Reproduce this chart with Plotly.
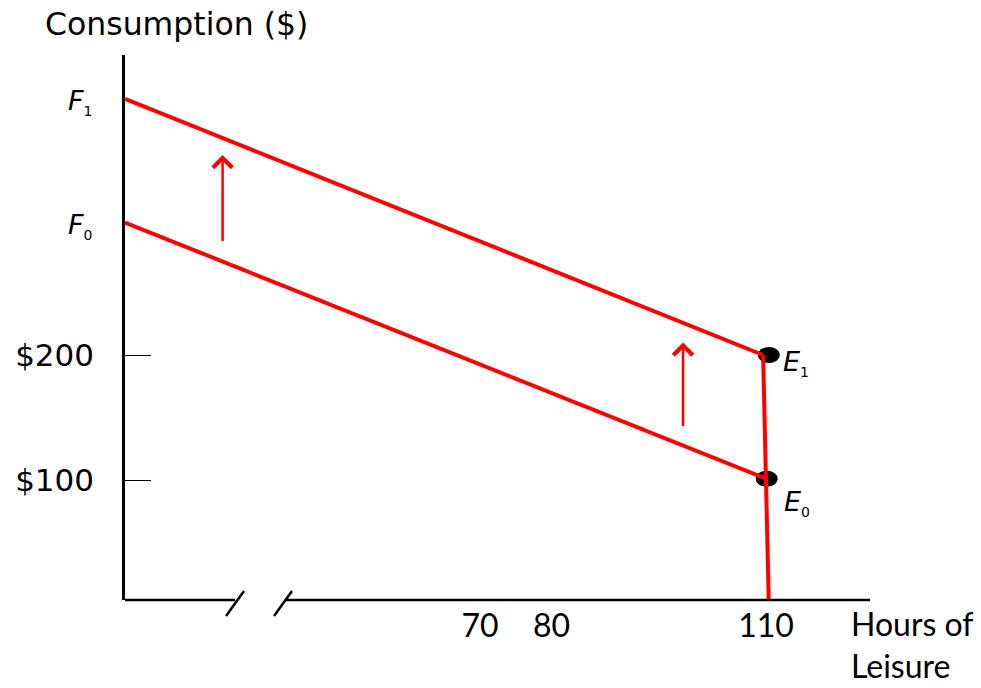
import plotly.graph_objects as go

# ---------------- data ----------------
# budget line F0 -> E0 and F1 -> E1 (hours of leisure, consumption $)
f0_hours = [20.35, 110.0]
f0_consumption = [306, 101]
f1_hours = [20.35, 109.6]
f1_consumption = [405, 200]
# vertical segment at the time endowment
endow_hours = [109.6, 110.4]
endow_consumption = [200, 0]
# equilibrium points
point_names = ["E", "E"]
point_subs = ["1", "0"]
point_hours = [110.4, 110.1]
point_consumption = [200, 101]
# intercept labels
intercept_names = ["F", "F"]
intercept_subs = ["1", "0"]
intercept_consumption = [405, 306]
# upward shift arrows
arrow_hours = [34.0, 98.4]
arrow_from = [290, 142]
arrow_to = [360, 210]
# axis ticks
y_tickvals = [100, 200]
y_ticktext = ["$100", "$200"]
x_tickvals = [70, 80, 110]
x_ticktext = ["70", "80", "110"]

X_RANGE = [20.35, 124.55]
Y_RANGE = [4, 440]

RED = "#FF0000"
fig = go.Figure()

fig.add_trace(go.Scatter(x=f1_hours, y=f1_consumption, mode="lines",
                         line=dict(color=RED, width=4), hoverinfo="skip"))
fig.add_trace(go.Scatter(x=f0_hours, y=f0_consumption, mode="lines",
                         line=dict(color=RED, width=4), hoverinfo="skip"))
fig.add_trace(go.Scatter(x=endow_hours, y=endow_consumption, mode="lines",
                         line=dict(color=RED, width=4), hoverinfo="skip"))

shapes = []
# equilibrium dots (ellipses, drawn under the lines)
for h, c in zip(point_hours, point_consumption):
    shapes.append(dict(type="circle", xref="x", yref="y", layer="below",
                       xsizemode="pixel", ysizemode="pixel",
                       xanchor=h, yanchor=c, x0=-11, x1=11, y0=-8, y1=8,
                       fillcolor="black", line=dict(color="black", width=0)))
# broken x axis
AX = dict(color="black", width=2.5)
shapes.append(dict(type="line", xref="paper", yref="paper", x0=0, x1=0.1477,
                   y0=0, y1=0, line=AX))
shapes.append(dict(type="line", xref="paper", yref="paper", x0=0.2148, x1=1,
                   y0=0, y1=0, line=AX))
for xa in [0.1477, 0.2121]:
    shapes.append(dict(type="line", xref="paper", yref="paper",
                       xsizemode="pixel", ysizemode="pixel",
                       xanchor=xa, yanchor=0, x0=-9, x1=9, y0=-16, y1=9,
                       line=AX))


def sub_label(main, sub):
    return ("<i>" + main + "</i><sub><span style='font-size:14px'>" + sub
            + "</span></sub>")


annotations = []
for h, a0, a1 in zip(arrow_hours, arrow_from, arrow_to):
    annotations.append(dict(x=h, y=a1, ax=h, ay=a0, xref="x", yref="y",
                            axref="x", ayref="y", text="", showarrow=True,
                            arrowhead=4, arrowsize=1.5, arrowwidth=2.5,
                            arrowcolor=RED))
for name, sub, c in zip(intercept_names, intercept_subs, intercept_consumption):
    annotations.append(dict(x=0, y=c, xref="paper", yref="y", text=sub_label(name, sub),
                            showarrow=False, xanchor="right", yanchor="middle",
                            xshift=-31, yshift=-3,
                            font=dict(family="DejaVu Sans", size=27, color="black")))
e_shift = [(-8, 19), (-24, 22)]
for name, sub, h, c, (ys, xs) in zip(point_names, point_subs, point_hours,
                                     point_consumption, e_shift):
    annotations.append(dict(x=h, y=c, xref="x", yref="y",
                            text=sub_label(name, sub),
                            showarrow=False, xanchor="left", yanchor="middle",
                            xshift=xs - 7, yshift=ys,
                            font=dict(family="DejaVu Sans", size=27, color="black")))
annotations.append(dict(x=0, y=1, xref="paper", yref="paper", text="Consumption ($)",
                        showarrow=False, xanchor="left", yanchor="middle",
                        xshift=-82, yshift=31,
                        font=dict(family="DejaVu Sans", size=31.5, color="black")))
annotations.append(dict(x=1, y=0, xref="paper", yref="paper", text="Hours of<br>Leisure",
                        showarrow=False, xanchor="left", yanchor="middle", align="left",
                        xshift=-21, yshift=-44,
                        font=dict(family="Lato", size=32, color="black")))

fig.update_layout(
    width=981, height=688,
    margin=dict(l=125, r=111, t=55, b=88),
    paper_bgcolor="white", plot_bgcolor="white",
    showlegend=False,
    shapes=shapes, annotations=annotations,
    xaxis=dict(range=X_RANGE, showgrid=False, zeroline=False, showline=False,
               tickvals=x_tickvals, ticktext=x_ticktext, ticks="",
               ticklabelstandoff=4,
               tickfont=dict(family="Lato", size=32, color="black")),
    yaxis=dict(range=Y_RANGE, showgrid=False, zeroline=False, showline=True,
               linecolor="black", linewidth=2.5,
               tickvals=y_tickvals, ticktext=y_ticktext, ticks="inside",
               ticklen=26, tickwidth=1.2, tickcolor="black",
               ticklabelstandoff=22,
               tickfont=dict(family="DejaVu Sans", size=31, color="black")),
)

fig.write_html("out.html", config={"displayModeBar": False},
               post_script="document.body.style.margin='0px';")
